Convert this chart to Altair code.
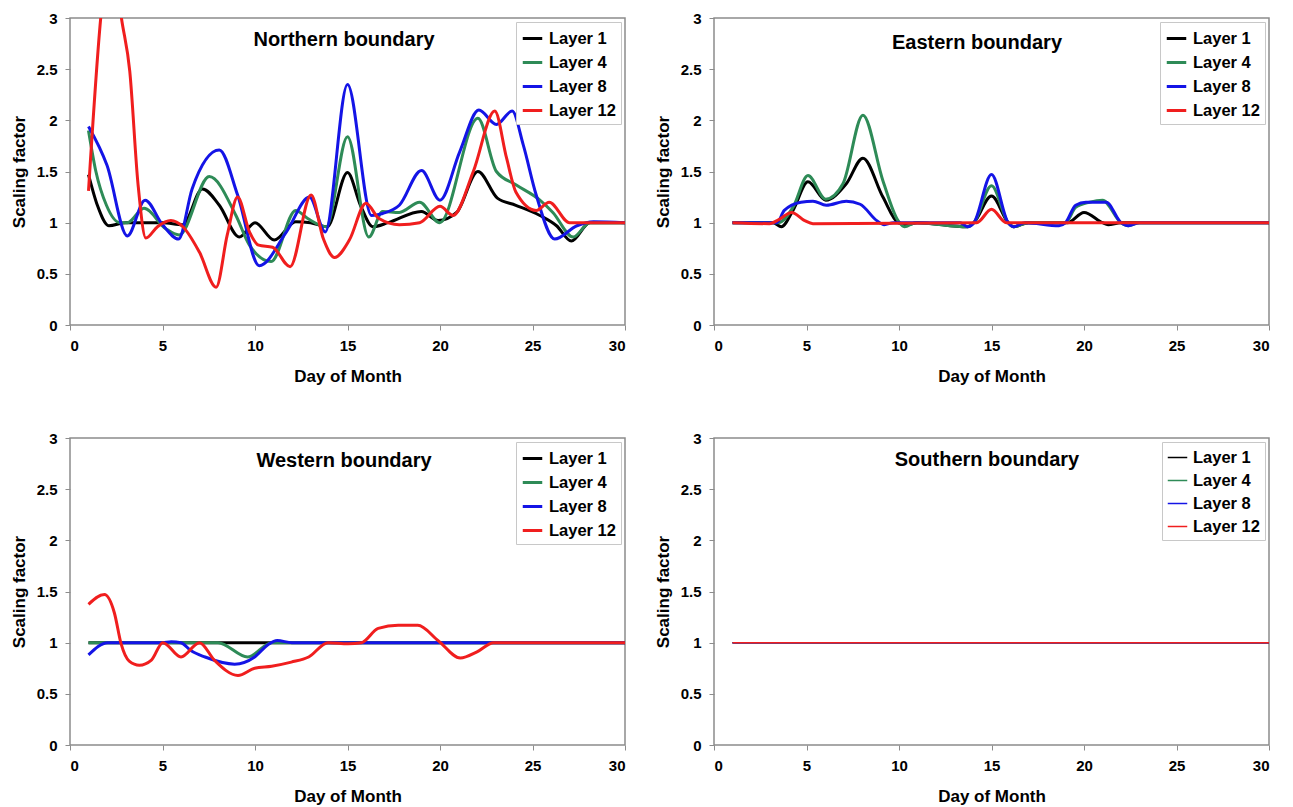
import altair as alt
import pandas as pd

FONT = "Liberation Sans"
LAYERS = ["Layer 1", "Layer 4", "Layer 8", "Layer 12"]
COLORS = ["#000000", "#2E8B57", "#1414E6", "#F01E1E"]

# ---------------- Northern boundary ----------------
N_L1_day = [1, 1.48, 2.1, 3, 4, 5, 6.1, 7.16, 8.07, 9.15, 10.0, 11.04, 12.2, 13, 13.9, 15.0, 15.7, 16.37, 17.2, 18.99, 19.9, 20.9, 22.05, 23.1, 24.1, 25.4, 26.3, 27.1, 28.1, 30]
N_L1_val = [1.47, 1.17, 0.97, 1.0, 1.0, 1.0, 0.98, 1.33, 1.17, 0.86, 1.0, 0.83, 1.01, 1.0, 0.96, 1.49, 1.17, 0.96, 1.0, 1.11, 1.02, 1.1, 1.50, 1.24, 1.17, 1.07, 0.97, 0.82, 1.0, 1.0]

N_L4_day = [1, 1.4, 1.97, 2.7, 3.1, 4.0, 5.18, 5.9, 7.53, 8.97, 9.7, 10.87, 12.2, 12.85, 13.85, 15.0, 16.15, 16.9, 17.8, 18.9, 19.98, 22.05, 23.05, 24.1, 25.4, 26.1, 27.2, 28.1, 30]
N_L4_val = [1.9, 1.5, 1.17, 1.0, 1.0, 1.14, 0.94, 0.88, 1.45, 1.07, 0.78, 0.62, 1.12, 1.04, 0.96, 1.84, 0.86, 1.11, 1.10, 1.2, 1.0, 2.02, 1.5, 1.37, 1.22, 1.1, 0.86, 1.0, 1.0]

N_L8_day = [1, 2.0, 3.1, 4.06, 5.0, 5.87, 6.6, 8.07, 9.06, 10.23, 11.7, 12.94, 13.8, 15.0, 16.3, 16.9, 17.8, 19.0, 20.0, 21.06, 22.1, 23.05, 23.9, 24.5, 25.2, 26.2, 27.4, 28.3, 30]
N_L8_val = [1.94, 1.56, 0.87, 1.22, 0.98, 0.84, 1.33, 1.71, 1.27, 0.58, 0.91, 1.25, 0.91, 2.35, 1.07, 1.09, 1.17, 1.51, 1.22, 1.69, 2.10, 1.96, 2.09, 1.76, 1.27, 0.84, 0.97, 1.01, 1.0]

N_L12_day = [1, 1.66, 2.2, 2.78, 3.23, 3.68, 4.1, 4.73, 5.45, 6.1, 7.0, 7.9, 8.5, 9.06, 9.7, 10.2, 10.95, 11.9, 13.03, 13.7, 14.3, 15.1, 16.0, 16.7, 17.8, 18.9, 20.0, 20.7, 21.8, 22.96, 23.6, 24.1, 25.2, 25.9, 27.0, 30]
N_L12_val = [1.31, 3.0, 3.8, 3.0, 2.48, 1.37, 0.85, 0.96, 1.02, 0.96, 0.71, 0.37, 0.88, 1.25, 0.91, 0.78, 0.76, 0.57, 1.27, 0.84, 0.66, 0.83, 1.19, 1.04, 0.98, 1.0, 1.16, 1.07, 1.5, 2.09, 1.63, 1.3, 1.12, 1.2, 1.0, 1.0]

# ---------------- Eastern boundary ----------------
E_L1_day = [1, 3.2, 3.64, 4.27, 5.08, 6.04, 7.15, 8.05, 9.13, 9.95, 10.4, 11, 13.7, 14.05, 15.0, 15.9, 16.2, 17, 19.1, 20.0, 21.0, 21.3, 22, 30]
E_L1_val = [1, 1, 0.96, 1.12, 1.40, 1.22, 1.38, 1.63, 1.25, 1.0, 0.98, 1.0, 0.96, 1.0, 1.26, 1.0, 0.96, 1.0, 1.0, 1.10, 1.0, 0.98, 1.0, 1.0]

E_L4_day = [1, 3.5, 4.27, 5.08, 6.04, 6.97, 8.05, 9.13, 9.95, 10.3, 10.9, 13.7, 14.05, 15.0, 15.9, 16.2, 17, 19.0, 19.55, 20.3, 21.0, 22.0, 22.4, 23, 30]
E_L4_val = [1, 1.0, 1.15, 1.46, 1.23, 1.38, 2.05, 1.41, 1.02, 0.96, 1.0, 0.96, 1.0, 1.36, 1.0, 0.96, 1.0, 1.0, 1.15, 1.2, 1.22, 1.0, 0.97, 1.0, 1.0]

E_L8_day = [1, 3.4, 3.8, 4.7, 5.35, 6.07, 7.15, 7.9, 8.8, 9.2, 9.7, 13.3, 13.7, 14.05, 15.0, 15.9, 16.2, 16.8, 18.65, 19.0, 19.55, 20.1, 21.2, 22.0, 22.4, 23, 30]
E_L8_val = [1, 1.0, 1.12, 1.2, 1.21, 1.17, 1.21, 1.18, 1.02, 0.98, 1.0, 1.0, 0.96, 1.0, 1.47, 1.0, 0.96, 1.0, 0.97, 1.0, 1.17, 1.2, 1.2, 1.0, 0.97, 1.0, 1.0]

E_L12_day = [1, 3.0, 3.5, 4.2, 4.9, 5.35, 14.2, 15.0, 15.8, 30]
E_L12_val = [1, 0.99, 1.03, 1.10, 1.02, 0.99, 1.0, 1.13, 1.0, 1.0]

# ---------------- Western boundary ----------------
W_L1_day = [1, 30]
W_L1_val = [1.0, 1.0]

W_L4_day = [1, 8.0, 9.6, 10.9, 30]
W_L4_val = [1.0, 1.0, 0.86, 1.0, 1.0]

W_L8_day = [1, 2.04, 5.0, 5.47, 6.0, 6.55, 7.3, 8.9, 9.98, 10.7, 11.2, 12.0, 23.0, 30]
W_L8_val = [0.88, 1.0, 1.0, 1.01, 1.0, 0.92, 0.86, 0.79, 0.86, 0.98, 1.02, 1.0, 1.0, 1.0]

W_L12_day = [1, 1.86, 2.4, 2.76, 3.2, 3.75, 4.4, 5.02, 6.0, 7.0, 7.8, 9.08, 9.98, 10.9, 11.96, 12.9, 13.95, 15.03, 15.75, 16.66, 17.74, 18.8, 19.9, 21.1, 22.0, 22.9, 30]
W_L12_val = [1.375, 1.47, 1.29, 0.99, 0.82, 0.78, 0.83, 1.0, 0.86, 1.0, 0.83, 0.68, 0.75, 0.77, 0.81, 0.86, 1.0, 0.99, 1.0, 1.14, 1.17, 1.17, 1.02, 0.85, 0.91, 1.0, 1.0]

# ---------------- Southern boundary ----------------
S_L1_day = [1, 30]
S_L1_val = [1.0, 1.0]
S_L4_day = [1, 30]
S_L4_val = [1.0, 1.0]
S_L8_day = [1, 30]
S_L8_val = [1.0, 1.0]
S_L12_day = [1, 30]
S_L12_val = [1.0, 1.0]

X_TICKS = [0, 5, 10, 15, 20, 25, 30]
Y_TICKS = [0, 0.5, 1, 1.5, 2, 2.5, 3]

W, H = 555, 307


def panel(title, series, widths, tx, ty):
    legend = alt.Legend(title=None, orient="top-right", offset=4,
                        symbolType="stroke", symbolSize=380,
                        labelFont=FONT, labelFontSize=16.5, labelFontWeight="bold",
                        labelColor="black", labelOffset=5,
                        strokeColor="#c8c8c8", fillColor="white",
                        padding=5, rowPadding=4)
    layers = []
    # draw in order Layer 1, 4, 8, 12 so that Layer 12 (red) is on top
    for layer, (days, vals) in zip(LAYERS, series):
        df = pd.DataFrame({"layer": layer, "day": days, "val": vals})
        layers.append(
            alt.Chart(df).mark_line(interpolate="monotone", clip=True).encode(
                x=alt.X("day:Q", scale=alt.Scale(domain=[0, 30], nice=False),
                        axis=alt.Axis(values=X_TICKS, title="Day of Month")),
                y=alt.Y("val:Q", scale=alt.Scale(domain=[0, 3], nice=False),
                        axis=alt.Axis(values=Y_TICKS, format="~g", title="Scaling factor")),
                color=alt.Color("layer:N", sort=LAYERS,
                                scale=alt.Scale(domain=LAYERS, range=COLORS),
                                legend=legend),
                strokeWidth=alt.StrokeWidth("layer:N", sort=LAYERS,
                                            scale=alt.Scale(domain=LAYERS, range=widths),
                                            legend=None),
            )
        )
    label = alt.Chart(pd.DataFrame({"t": [title]})).mark_text(
        font=FONT, fontSize=20, fontWeight="bold", align="center", baseline="middle", color="black"
    ).encode(text="t:N", x=alt.value(tx), y=alt.value(ty))
    return alt.layer(*layers, label).properties(width=W, height=H)


p1 = panel("Northern boundary",
           [(N_L1_day, N_L1_val), (N_L4_day, N_L4_val), (N_L8_day, N_L8_val), (N_L12_day, N_L12_val)],
           [3, 3, 2, 2], 274, 22)
p2 = panel("Eastern boundary",
           [(E_L1_day, E_L1_val), (E_L4_day, E_L4_val), (E_L8_day, E_L8_val), (E_L12_day, E_L12_val)],
           [3, 3, 2, 2], 263, 25)
p3 = panel("Western boundary",
           [(W_L1_day, W_L1_val), (W_L4_day, W_L4_val), (W_L8_day, W_L8_val), (W_L12_day, W_L12_val)],
           [3, 3, 2, 2], 274, 23)
p4 = panel("Southern boundary",
           [(S_L1_day, S_L1_val), (S_L4_day, S_L4_val), (S_L8_day, S_L8_val), (S_L12_day, S_L12_val)],
           [1.5, 1.5, 1.5, 2], 273, 22)

row1 = alt.hconcat(p1, p2, spacing=26).resolve_scale(color="independent", strokeWidth="independent").resolve_legend(color="independent")
row2 = alt.hconcat(p3, p4, spacing=26).resolve_scale(color="independent", strokeWidth="independent").resolve_legend(color="independent")

chart = alt.vconcat(row1, row2, spacing=45).resolve_scale(
    color="independent", strokeWidth="independent"
).resolve_legend(color="independent").properties(
    padding={"left": 9, "top": 10, "right": 10, "bottom": 5}
).configure(
    background="white"
).configure_view(
    stroke="#8c8c8c", strokeWidth=1.5
).configure_axis(
    grid=False, domain=False,
    tickColor="#8c8c8c", tickSize=5, tickWidth=1,
    labelFont=FONT, labelFontSize=15, labelFontWeight="bold", labelColor="black", labelPadding=8,
    titleFont=FONT, titleFontSize=17, titleFontWeight="bold", titleColor="black",
).configure_axisY(titlePadding=8).configure_axisX(titlePadding=15)

chart.save("out.html", embed_options={"renderer": "svg", "actions": False})
